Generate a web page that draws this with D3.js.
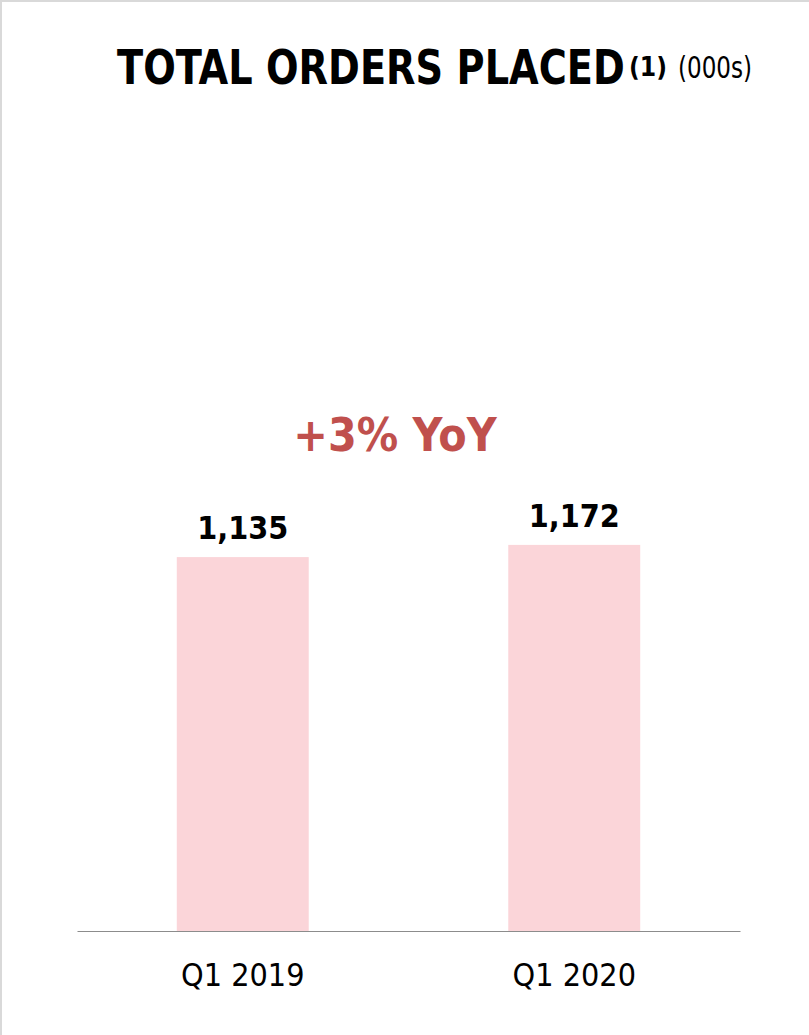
<!DOCTYPE html>
<html>
<head>
<meta charset="utf-8">
<script src="https://cdn.jsdelivr.net/npm/d3@7"></script>
<style>
  html, body { margin: 0; padding: 0; background: #fff; }
  svg { display: block; }
  text { font-family: 'DejaVu Sans Condensed', 'DejaVu Sans', sans-serif; font-stretch: condensed; }
</style>
</head>
<body>
<script>
const categories = ["Q1 2019", "Q1 2020"];
const values = [1135, 1172];
const valueLabels = ["1,135", "1,172"];
const titleMain = "TOTAL ORDERS PLACED";
const titleNote = "(1)";
const titleUnit = "(000s)";
const growthLabel = "+3% YoY";

const W = 809, H = 1035;
const svg = d3.select("body").append("svg").attr("width", W).attr("height", H);

// frame edges
svg.append("rect").attr("x", 0).attr("y", 0).attr("width", W).attr("height", 2).attr("fill", "#d9d9d9");
svg.append("rect").attr("x", 0).attr("y", 0).attr("width", 2).attr("height", H).attr("fill", "#d9d9d9");

const x = d3.scaleBand().domain(categories).range([77, 740]).paddingInner(0.602).paddingOuter(0.301);
const y = d3.scaleLinear().domain([0, 1800]).range([931, 338]);

svg.selectAll("rect.bar").data(values).join("rect")
  .attr("class", "bar")
  .attr("x", (d, i) => x(categories[i]))
  .attr("width", x.bandwidth())
  .attr("y", d => y(d))
  .attr("height", d => y(0) - y(d))
  .attr("fill", "#fbd5d9");

// axis
const axis = svg.append("g").attr("transform", "translate(0,931)")
  .call(d3.axisBottom(x).tickSize(0).tickPadding(0));
axis.select(".domain").attr("stroke", "#8c8c8c").attr("stroke-width", 1.2);
axis.selectAll(".tick text")
  .attr("dy", 0).attr("y", 55)
  .style("font-size", "32px").attr("fill", "#000")
  .style("font-family", "'DejaVu Sans Condensed', 'DejaVu Sans', sans-serif");

// value labels
svg.selectAll("text.val").data(values).join("text")
  .attr("class", "val")
  .attr("x", (d, i) => x(categories[i]) + x.bandwidth() / 2)
  .attr("y", d => y(d) - 18)
  .attr("text-anchor", "middle")
  .style("font-size", "32px").style("font-weight", "bold")
  .attr("fill", "#000")
  .text((d, i) => valueLabels[i]);

// growth label
svg.append("text")
  .attr("x", 395).attr("y", 451)
  .attr("text-anchor", "middle")
  .style("font-size", "46px").style("font-weight", "bold")
  .attr("fill", "#c0504d")
  .text(growthLabel);

// title parts, horizontally squeezed to fit target widths
function fitted(str, x0, y0, size, weight, width) {
  const t = svg.append("text").attr("x", 0).attr("y", 0).attr("fill", "#000")
    .style("font-size", size + "px").style("font-weight", weight).text(str);
  const natural = t.node().getComputedTextLength();
  const sx = natural > 0 ? width / natural : 1;
  t.attr("transform", `translate(${x0},${y0}) scale(${sx},1)`);
  return t;
}
fitted(titleMain, 117, 84, 48, "bold", 508);
fitted(titleNote, 629, 76, 27, "bold", 38);
fitted(titleUnit, 678, 78, 30, "normal", 74);
</script>
</body>
</html>
